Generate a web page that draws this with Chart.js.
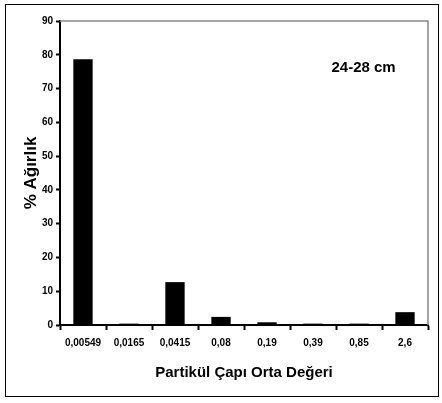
<!DOCTYPE html>
<html>
<head>
<meta charset="utf-8">
<script src="https://cdn.jsdelivr.net/npm/chart.js@4/dist/chart.umd.min.js"></script>
<style>
  html, body { margin: 0; padding: 0; background: #fff; }
  #wrap { width: 442px; height: 403px; }
</style>
</head>
<body>
<div id="wrap"><canvas id="grafik" width="442" height="403"></canvas></div>
<script>
// veriler
const kategoriler = ['0,00549', '0,0165', '0,0415', '0,08', '0,19', '0,39', '0,85', '2,6'];
const agirlik = [78.7, 0.4, 12.7, 2.4, 0.8, 0.4, 0.4, 3.8];
const etiket = '24-28 cm';
const xBaslik = 'Partikül Çapı Orta Değeri';
const yBaslik = '% Ağırlık';

const yazi = '"Liberation Sans", Arial, sans-serif';

// cerceve ve ust/sag gri cizgiler
const cerceve = {
  id: 'cerceve',
  afterDraw(chart) {
    const ctx = chart.ctx;
    const a = chart.chartArea;
    ctx.save();
    ctx.strokeStyle = '#888';
    ctx.lineWidth = 1.5;
    ctx.beginPath();
    ctx.moveTo(a.left, a.top);
    ctx.lineTo(a.right, a.top);
    ctx.lineTo(a.right, a.bottom);
    ctx.stroke();
    ctx.strokeStyle = '#000';
    ctx.lineWidth = 1;
    ctx.strokeRect(5.5, 4.5, 433, 392);
    // 24-28 cm etiketi
    const x = chart.scales.x.getPixelForValue(6.1);
    const y = chart.scales.y.getPixelForValue(76);
    ctx.fillStyle = '#000';
    ctx.font = 'bold 15px ' + yazi;
    ctx.textAlign = 'center';
    ctx.textBaseline = 'middle';
    ctx.fillText(etiket, x, y);
    ctx.restore();
  }
};

new Chart(document.getElementById('grafik'), {
  type: 'bar',
  data: {
    labels: kategoriler,
    datasets: [{
      data: agirlik,
      backgroundColor: '#000',
      borderWidth: 0,
      categoryPercentage: 1,
      barPercentage: 0.42
    }]
  },
  options: {
    responsive: false,
    animation: false,
    devicePixelRatio: 1,
    layout: { padding: { left: 6, top: 21, right: 14, bottom: 10 } },
    plugins: { legend: { display: false }, tooltip: { enabled: false } },
    scales: {
      x: {
        afterFit(s) { s.height = 68; },
        grid: { display: true, drawOnChartArea: false, drawTicks: true, tickLength: 5, tickWidth: 2, color: '#000', offset: true },
        border: { color: '#000', width: 2 },
        ticks: { color: '#000', font: { family: yazi, size: 10, weight: 'bold' }, padding: 7, maxRotation: 0 },
        title: { display: true, text: xBaslik, color: '#000', font: { family: yazi, size: 15, weight: 'bold' }, padding: { top: 0, bottom: 11 } }
      },
      y: {
        min: 0, max: 90,
        afterFit(s) { s.width = 54; },
        grid: { display: true, drawOnChartArea: false, drawTicks: true, tickLength: 4, tickWidth: 2, color: '#000' },
        border: { color: '#000', width: 2 },
        ticks: { stepSize: 10, color: '#000', font: { family: yazi, size: 10, weight: 'bold' }, padding: 3 },
        title: { display: true, text: yBaslik, color: '#000', font: { family: yazi, size: 17, weight: 'bold' }, padding: { top: 15, bottom: 0 } }
      }
    }
  },
  plugins: [cerceve]
});
</script>
</body>
</html>
